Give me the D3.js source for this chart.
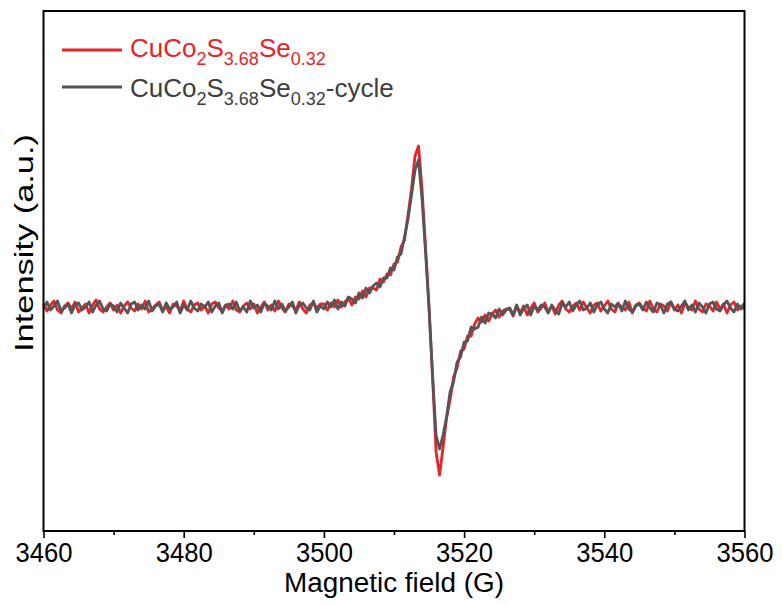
<!DOCTYPE html>
<html>
<head>
<meta charset="utf-8">
<script src="https://cdn.jsdelivr.net/npm/d3@7"></script>
<style>
  html, body { margin: 0; padding: 0; background: #ffffff; }
  svg { display: block; font-family: "Liberation Sans", Arial, sans-serif; }
</style>
</head>
<body>
<svg id="chart" width="782" height="605"></svg>
<script>
// ---- data ----
const fieldStart = 3460;   // G
const fieldStep = 0.5;     // G per sample
const majorTicks = [3460, 3480, 3500, 3520, 3540, 3560];
const minorTicks = [3470, 3490, 3510, 3530, 3550];
const seriesNames = ["CuCo2S3.68Se0.32", "CuCo2S3.68Se0.32-cycle"];

const redValues = [
  3, -4, 2, 6, -3, -6, 1, 4, -2, 5,
  -5, -1, 3, -6, 2, 7, -2, -5, 0, 4,
  -3, 2, -6, 1, 5, -1, -4, 3, -2, 6,
  -5, -2, 2, 5, -3, 0, -6, 3, 1, -4,
  6, -2, -5, 2, 4, -3, 1, -6, 3, 5,
  -1, -4, 2, -2, 6, -3, -5, 1, 4, -2,
  3, -6, 0, 5, -3, 2, -4, 6, -1, -5,
  3, 1, -3, 5, -2, -6, 2, 4, -1, 3,
  3, -3, 4, 0, 7, 0, 5, 9, 2, 10,
  8, 16, 10, 19, 19, 17, 28, 25, 33, 32,
  43, 45, 60, 67, 92, 118, 151, 161, 118, 60,
  0, -70, -145, -168, -140, -111, -93, -70, -61, -44,
  -42, -29, -29, -17, -11, -15, -8, -14, -7, -3,
  -10, -4, -2,
  -2, -9, 1, -6, 1, -8, -1, 4, -5, -1,
  4, -5, 1, -7, 2, 6, -2, -5, 1, 4,
  -3, 5, -1, -6, 2, 4, -4, 1, 6, -2,
  -5, 3, 0, -3, 5, -6, 2, 4, -1, -4,
  6, -2, -5, 3, 1, -4, 5, -3, 2, -6,
  4, 0, -3, 6, -2, -5, 3, 1, -4, 5,
  -2, 3, -6, 2, 5, -3, 1, -2
];

const grayValues = [
  -2, 5, -3, 1, 6, -4, -1, 3, -6, 2,
  4, -3, 0, 5, -5, 2, 6, -2, -4, 3,
  1, -5, 4, -1, -6, 3, 5, -3, 2, -2,
  6, -4, 1, 3, -5, 4, -2, 0, 5, -6,
  2, -3, 6, -1, -4, 3, 0, 5, -5, 1,
  4, -6, 2, 3, -2, 5, -4, 0, -5, 6,
  -1, 2, -5, 4, 1, -3, 6, -2, 3, -4,
  0, 5, -6, 2, 4, -1, -3, 6, -5, 1,
  -2, 5, 0, 7, -2, 5, 1, 10, 8, 4,
  14, 9, 19, 14, 21, 24, 20, 29, 29, 39,
  37, 50, 53, 70, 88, 112, 137, 147, 108, 55,
  -2, -68, -128, -142, -128, -110, -85, -75, -55, -50,
  -35, -34, -20, -22, -20, -10, -16, -6, -7, -11,
  -2, -8, -3,
  -1, -8, 2, -8, -1, 2, -8, 1, -3, 2,
  0, -6, 2, -3, -7, 4, 0, 5, -4, 2,
  6, -3, -1, 4, -5, 2, 5, -2, -6, 3,
  0, 4, -4, 6, -2, -5, 1, 3, -3, 5,
  -1, -5, 4, 2, -6, 3, 5, -2, -4, 1,
  6, -3, 2, -5, 4, 0, -6, 3, 5, -2,
  -4, 2, 6, -1, -5, 3, -2, 4
];

// ---- layout ----
const svg = d3.select("#chart");
const padL = 43.5, padR = 744.5, padT = 11, padB = 531;
const RED = "#e8232a", GRAY = "#555555";

const x = d3.scaleLinear().domain([3460, 3560]).range([padL, padR]);
const y = d3.scaleLinear().domain([-224, 296]).range([padB, padT]);

const toPts = vals => vals.map((v, i) => [fieldStart + i * fieldStep, v]);
const line = d3.line().x(d => x(d[0])).y(d => y(d[1]));

const plot = svg.append("g");
plot.append("path").datum(toPts(redValues))
  .attr("d", line).attr("fill", "none").attr("stroke", RED)
  .attr("stroke-width", 2.8).attr("stroke-linejoin", "round");
plot.append("path").datum(toPts(grayValues))
  .attr("d", line).attr("fill", "none").attr("stroke", GRAY)
  .attr("stroke-width", 2.8).attr("stroke-linejoin", "round");

// frame
svg.append("rect").attr("x", padL).attr("y", padT)
  .attr("width", padR - padL).attr("height", padB - padT)
  .attr("fill", "none").attr("stroke", "#000").attr("stroke-width", 2);

// x axis
const xAxis = d3.axisBottom(x).tickValues(majorTicks).tickSize(7).tickPadding(5)
  .tickFormat(d3.format("d"));
const gx = svg.append("g").attr("transform", `translate(0,${padB})`).call(xAxis);
gx.select(".domain").remove();
gx.selectAll(".tick line").attr("stroke", "#000").attr("stroke-width", 1.6);
gx.selectAll(".tick text").attr("font-size", 27)
  .attr("font-family", "Liberation Sans, Arial, sans-serif").attr("fill", "#000")
  .attr("textLength", 57).attr("lengthAdjust", "spacingAndGlyphs")
  .attr("dy", "0.72em");

const gxm = svg.append("g").attr("transform", `translate(0,${padB})`)
  .call(d3.axisBottom(x).tickValues(minorTicks).tickSize(4).tickFormat(""));
gxm.select(".domain").remove();
gxm.selectAll(".tick line").attr("stroke", "#000").attr("stroke-width", 1.6);

// axis titles
svg.append("text").attr("x", 394).attr("y", 592)
  .attr("text-anchor", "middle").attr("font-size", 27).attr("fill", "#000")
  .attr("textLength", 220).attr("lengthAdjust", "spacingAndGlyphs")
  .text("Magnetic field (G)");

svg.append("text").attr("transform", "translate(33,243) rotate(-90)")
  .attr("text-anchor", "middle").attr("font-size", 26).attr("fill", "#000")
  .attr("textLength", 218).attr("lengthAdjust", "spacingAndGlyphs")
  .text("Intensity (a.u.)");

// legend
function legendEntry(yLine, yBase, color, textColor, suffix) {
  svg.append("line").attr("x1", 62).attr("x2", 122).attr("y1", yLine).attr("y2", yLine)
    .attr("stroke", color).attr("stroke-width", 3);
  const t = svg.append("text").attr("x", 130).attr("y", yBase)
    .attr("font-size", 26).attr("fill", textColor);
  t.append("tspan").text("CuCo");
  t.append("tspan").attr("font-size", 18).attr("dy", 8).text("2");
  t.append("tspan").attr("dy", -8).text("S");
  t.append("tspan").attr("font-size", 18).attr("dy", 8).text("3.68");
  t.append("tspan").attr("dy", -8).text("Se");
  t.append("tspan").attr("font-size", 18).attr("dy", 8).text("0.32");
  if (suffix) t.append("tspan").attr("dy", -8).text(suffix);
}
legendEntry(50, 57, RED, RED, "");
legendEntry(87, 97, GRAY, "#3d3d3d", "-cycle");
</script>
</body>
</html>
